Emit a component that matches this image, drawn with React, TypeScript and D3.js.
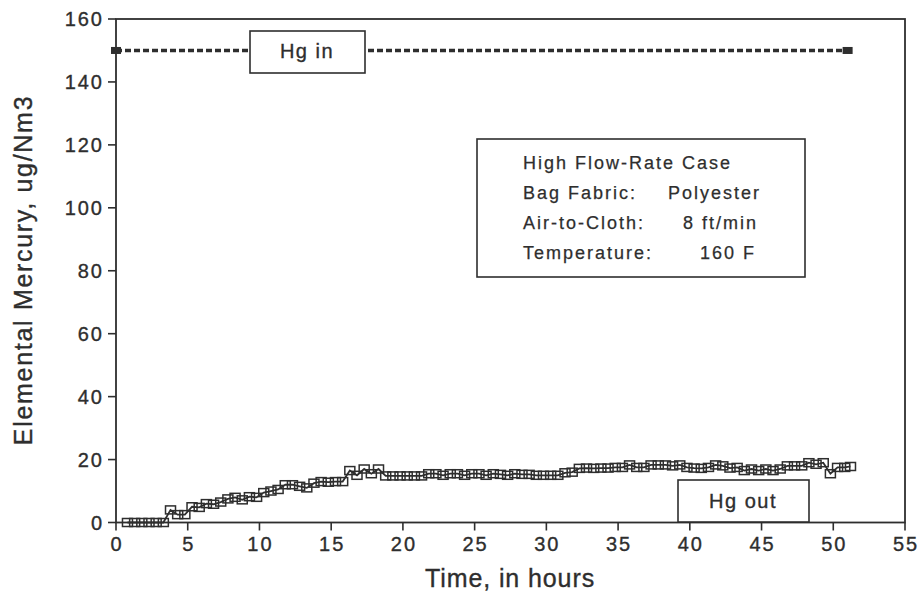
import React from "react";
import * as d3 from "d3";

const xTicks = [0, 5, 10, 15, 20, 25, 30, 35, 40, 45, 50, 55];
const yTicks = [0, 20, 40, 60, 80, 100, 120, 140, 160];

const hgInTimes = [0, 51];
const hgInValues = [150, 150];

const hgOutTimes = [
  0.8, 1.3, 1.8, 2.3, 2.8, 3.3, 3.8, 4.3, 4.8, 5.3, 5.8, 6.3, 6.8, 7.3, 7.8, 8.3, 8.8, 9.3, 9.8,
  10.3, 10.8, 11.3, 11.8, 12.3, 12.8, 13.3, 13.8, 14.3, 14.8, 15.3, 15.8, 16.3, 16.8, 17.3, 17.8,
  18.3, 18.8, 19.3, 19.8, 20.3, 20.8, 21.3, 21.8, 22.3, 22.8, 23.3, 23.8, 24.3, 24.8, 25.3, 25.8,
  26.3, 26.8, 27.3, 27.8, 28.3, 28.8, 29.3, 29.8, 30.3, 30.8, 31.3, 31.8, 32.3, 32.8, 33.3, 33.8,
  34.3, 34.8, 35.3, 35.8, 36.3, 36.8, 37.3, 37.8, 38.3, 38.8, 39.3, 39.8, 40.3, 40.8, 41.3, 41.8,
  42.3, 42.8, 43.3, 43.8, 44.3, 44.8, 45.3, 45.8, 46.3, 46.8, 47.3, 47.8, 48.3, 48.8, 49.3, 49.8,
  50.3, 50.8, 51.2,
];
const hgOutValues = [
  0, 0, 0, 0, 0, 0, 4, 2.5, 2.5, 5, 4.8, 6, 5.8, 6.5, 7.5, 8, 7.2, 8.2, 8,
  9.5, 10, 10.5, 12, 12, 11.5, 11, 12.5, 13, 12.8, 13, 13, 16.5, 15, 17, 15.5,
  17, 14.8, 14.8, 14.8, 14.8, 14.8, 14.8, 15.5, 15.5, 15, 15.5, 15.5, 15, 15.5, 15.5, 15,
  15.5, 15.3, 15, 15.5, 15.3, 15.3, 15, 15, 15, 15, 15.8, 16, 17.2, 17.3, 17.2, 17.3,
  17.3, 17.5, 17.5, 18.3, 17.5, 17.5, 18.3, 18.3, 18.3, 18, 18.3, 17.5, 17.3, 17.2, 17.5, 18.3,
  18, 17.3, 17.5, 16.5, 17, 16.5, 17, 16.5, 17, 18, 18, 18, 19, 18.5, 19, 15.5,
  17.5, 17.5, 17.8,
];

const infoLines = [
  ["High Flow-Rate Case", ""],
  ["Bag Fabric:", "Polyester"],
  ["Air-to-Cloth:", "8 ft/min"],
  ["Temperature:", "160 F"],
];

const INK = "#2e2e2e";
const FONT = "'Liberation Sans', Arial, Helvetica, sans-serif";
const TS = 0.35;

export default function App() {
  const x = d3.scaleLinear().domain([0, 55]).range([116, 905]);
  const y = d3.scaleLinear().domain([0, 160]).range([522.5, 19]);

  const outPts = hgOutTimes.map((t, i) => [t, hgOutValues[i]] as [number, number]);
  const inPts = hgInTimes.map((t, i) => [t, hgInValues[i]] as [number, number]);
  const line = d3
    .line<[number, number]>()
    .x((d) => x(d[0]))
    .y((d) => y(d[1]));

  const col2X = [0, 668, 683, 700];

  return (
    <svg
      width={921}
      height={598}
      style={{ position: "absolute", left: 0, top: 0, background: "#fff" }}
      fontFamily={FONT}
    >
      <rect x={0} y={0} width={921} height={598} fill="#fff" />

      {/* frame */}
      <rect x={x(0)} y={y(160)} width={x(55) - x(0)} height={y(0) - y(160)} fill="none" stroke={INK} strokeWidth={1.8} />

      {/* y ticks */}
      {yTicks.map((v) => (
        <g key={"y" + v}>
          <line x1={x(0) - 8} x2={x(0)} y1={y(v)} y2={y(v)} stroke={INK} strokeWidth={1.6} />
          <text
            x={104}
            y={y(v) + 7}
            textAnchor="end"
            fontSize={20}
            letterSpacing={2}
            fill={INK}
            stroke={INK}
            strokeWidth={TS}
          >
            {v}
          </text>
        </g>
      ))}

      {/* x ticks */}
      {xTicks.map((v) => (
        <g key={"x" + v}>
          <line x1={x(v)} x2={x(v)} y1={y(0)} y2={y(0) + 8} stroke={INK} strokeWidth={1.6} />
          <text x={x(v) + 1} y={551} textAnchor="middle" fontSize={20} letterSpacing={2} fill={INK} stroke={INK} strokeWidth={TS}>
            {v}
          </text>
        </g>
      ))}

      {/* axis titles */}
      <text x={510} y={587} textAnchor="middle" fontSize={25} letterSpacing={0.9} fill={INK} stroke={INK} strokeWidth={TS}>
        Time, in hours
      </text>
      <text
        transform={`translate(32, ${270}) rotate(-90)`}
        textAnchor="middle"
        fontSize={25}
        letterSpacing={1.7}
        fill={INK}
        stroke={INK}
        strokeWidth={TS}
      >
        Elemental Mercury, ug/Nm3
      </text>

      {/* Hg in line */}
      <path d={line(inPts) || ""} fill="none" stroke={INK} strokeWidth={3.5} strokeDasharray="6,3" />
      {inPts.map((p, i) => (
        <rect key={"in" + i} x={x(p[0]) - 5} y={y(p[1]) - 3.5} width={10} height={7} fill={INK} />
      ))}

      {/* Hg in label */}
      <rect x={250} y={31} width={115} height={42} fill="#fff" stroke={INK} strokeWidth={1.6} />
      <text x={307} y={57.5} textAnchor="middle" fontSize={20} letterSpacing={1.5} fill={INK} stroke={INK} strokeWidth={TS}>
        Hg in
      </text>

      {/* Hg out series */}
      <path d={line(outPts) || ""} fill="none" stroke={INK} strokeWidth={1.8} />
      {outPts.map((p, i) => (
        <rect
          key={"out" + i}
          x={x(p[0]) - 5}
          y={y(p[1]) - 4}
          width={10}
          height={8}
          fill="none"
          stroke={INK}
          strokeWidth={1.5}
        />
      ))}

      {/* Hg out label */}
      <rect x={678} y={480} width={131} height={42} fill="#fff" stroke={INK} strokeWidth={1.6} />
      <text x={743} y={508} textAnchor="middle" fontSize={20} letterSpacing={1.5} fill={INK} stroke={INK} strokeWidth={TS}>
        Hg out
      </text>

      {/* info box */}
      <rect x={477} y={139} width={328} height={138} fill="#fff" stroke={INK} strokeWidth={1.6} />
      {infoLines.map((l, i) => (
        <g key={"info" + i}>
          <text x={523} y={168.5 + i * 30.3} fontSize={18} letterSpacing={2} fill={INK} stroke={INK} strokeWidth={0.25}>
            {l[0]}
          </text>
          {l[1] && (
            <text x={col2X[i]} y={168.5 + i * 30.3} fontSize={18} letterSpacing={2} fill={INK} stroke={INK} strokeWidth={0.25}>
              {l[1]}
            </text>
          )}
        </g>
      ))}
    </svg>
  );
}
